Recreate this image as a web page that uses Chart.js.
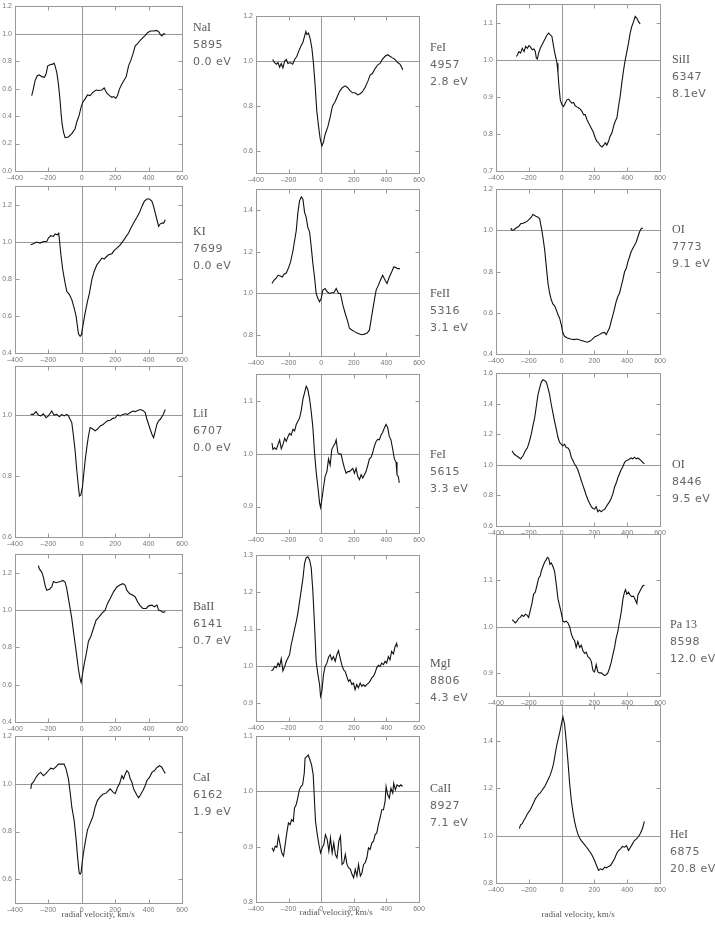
<!DOCTYPE html>
<html>
<head>
<meta charset="utf-8">
<script src="https://cdn.jsdelivr.net/npm/chart.js@4.4.0/dist/chart.umd.min.js"></script>
<style>
body { margin: 0; background: #fff; width: 715px; height: 927px; position: relative; overflow: hidden; }
canvas { position: absolute; }
.lab { position: absolute; color: #666; font: 11px "DejaVu Sans"; letter-spacing: 0.5px; line-height: 17px; white-space: pre; }
.lab .el { font: 12px "Liberation Serif"; color: #555; letter-spacing: 0; }
.xt { position: absolute; font: 9px "Liberation Serif"; color: #555; white-space: pre; }
</style>
</head>
<body>
<script>
// line profiles: [radial velocity km/s, normalised flux]
var naI = [[-300,0.549],[-290,0.598],[-280,0.658],[-266,0.694],[-254,0.70],[-240,0.687],[-224,0.682],[-214,0.706],[-204,0.766],[-190,0.773],[-174,0.778],[-166,0.786],[-160,0.766],[-150,0.718],[-140,0.634],[-130,0.513],[-124,0.417],[-118,0.345],[-110,0.284],[-100,0.243],[-80,0.248],[-60,0.272],[-40,0.308],[-30,0.357],[-16,0.405],[-4,0.465],[6,0.501],[20,0.525],[34,0.554],[50,0.549],[66,0.573],[86,0.590],[100,0.586],[120,0.590],[134,0.605],[150,0.566],[166,0.549],[180,0.537],[190,0.542],[204,0.530],[214,0.549],[226,0.598],[240,0.634],[254,0.663],[266,0.687],[280,0.766],[294,0.807],[306,0.851],[320,0.911],[334,0.928],[350,0.952],[366,0.971],[380,0.988],[394,1.007],[410,1.019],[430,1.019],[446,1.024],[460,1.014],[470,0.995],[480,0.983],[490,1.0],[500,0.995]];
var kI = [[-306,0.984],[-290,0.99],[-270,0.999],[-250,0.993],[-230,1.002],[-210,1.002],[-200,1.02],[-186,1.033],[-170,1.029],[-160,1.042],[-146,1.038],[-138,1.047],[-130,0.975],[-124,0.921],[-114,0.849],[-100,0.777],[-90,0.733],[-74,0.715],[-60,0.688],[-46,0.643],[-34,0.598],[-26,0.544],[-20,0.504],[-10,0.49],[-2,0.499],[6,0.544],[20,0.616],[34,0.679],[46,0.724],[60,0.796],[74,0.84],[90,0.876],[106,0.894],[120,0.912],[134,0.907],[146,0.918],[160,0.93],[180,0.936],[194,0.954],[210,0.966],[230,0.984],[250,1.008],[266,1.029],[280,1.047],[294,1.074],[310,1.101],[330,1.132],[346,1.159],[360,1.191],[374,1.218],[390,1.231],[406,1.231],[420,1.218],[430,1.191],[440,1.155],[450,1.119],[460,1.083],[470,1.097],[480,1.101],[490,1.101],[500,1.119]];
var liI = [[-306,1.002],[-290,1.002],[-274,1.011],[-260,1.0],[-246,0.997],[-230,1.004],[-214,0.991],[-200,0.997],[-180,1.013],[-166,1.0],[-150,1.002],[-134,0.994],[-120,1.002],[-106,0.997],[-90,1.002],[-80,0.997],[-70,0.986],[-60,0.975],[-50,0.932],[-40,0.883],[-30,0.818],[-20,0.764],[-14,0.734],[-6,0.737],[4,0.764],[10,0.797],[20,0.851],[30,0.894],[40,0.932],[50,0.959],[66,0.954],[80,0.948],[94,0.954],[110,0.964],[126,0.968],[140,0.975],[154,0.981],[170,0.983],[186,0.989],[200,0.991],[214,1.0],[230,0.997],[246,1.002],[260,1.004],[274,1.002],[290,1.008],[306,1.013],[320,1.011],[334,1.015],[350,1.018],[366,1.015],[380,1.008],[390,0.986],[406,0.959],[420,0.937],[430,0.926],[440,0.948],[450,0.970],[460,0.981],[470,0.986],[486,1.0],[500,1.018]];
var baII = [[-260,1.239],[-254,1.221],[-240,1.204],[-230,1.177],[-220,1.133],[-210,1.106],[-194,1.112],[-180,1.124],[-170,1.154],[-154,1.147],[-140,1.151],[-126,1.154],[-114,1.159],[-100,1.151],[-90,1.115],[-80,1.062],[-70,1.009],[-60,0.956],[-50,0.886],[-34,0.78],[-20,0.683],[-10,0.63],[-4,0.612],[4,0.656],[14,0.709],[26,0.762],[40,0.833],[54,0.859],[70,0.903],[86,0.947],[100,0.96],[120,0.983],[140,1.0],[154,1.036],[170,1.062],[190,1.098],[210,1.124],[230,1.136],[246,1.142],[260,1.133],[270,1.106],[286,1.089],[306,1.080],[320,1.071],[334,1.045],[350,1.023],[366,1.009],[386,1.009],[400,1.023],[420,1.027],[434,1.018],[450,1.027],[460,1.0],[474,0.995],[486,0.988],[500,0.992]];
var caI = [[-306,0.979],[-300,1.0],[-290,1.007],[-274,1.028],[-260,1.041],[-246,1.048],[-230,1.034],[-214,1.044],[-200,1.055],[-186,1.066],[-170,1.062],[-154,1.072],[-140,1.083],[-120,1.083],[-106,1.083],[-94,1.062],[-80,1.021],[-70,0.966],[-60,0.903],[-46,0.848],[-34,0.766],[-24,0.683],[-16,0.628],[-10,0.621],[-4,0.628],[2,0.669],[10,0.71],[20,0.752],[34,0.807],[50,0.834],[66,0.862],[80,0.903],[94,0.931],[110,0.945],[126,0.956],[146,0.961],[160,0.972],[170,0.979],[186,0.966],[200,0.959],[214,0.986],[226,1.0],[240,1.034],[250,1.021],[260,1.041],[270,1.055],[280,1.048],[290,1.021],[300,1.007],[310,0.979],[320,0.966],[330,0.952],[340,0.942],[350,0.952],[366,0.972],[380,0.993],[390,1.014],[406,1.028],[420,1.048],[434,1.055],[450,1.069],[466,1.076],[480,1.069],[490,1.055],[500,1.044]];
var feI4957 = [[-298,1.007],[-286,0.993],[-275,0.986],[-265,0.993],[-255,0.972],[-245,0.989],[-235,0.969],[-224,1.0],[-214,1.007],[-204,0.989],[-190,0.993],[-175,0.986],[-163,1.007],[-149,1.021],[-139,1.042],[-124,1.067],[-112,1.084],[-102,1.111],[-94,1.132],[-88,1.118],[-78,1.125],[-67,1.098],[-57,1.056],[-47,0.986],[-37,0.889],[-27,0.777],[-16,0.707],[-6,0.652],[4,0.621],[14,0.638],[24,0.672],[41,0.707],[55,0.749],[69,0.798],[86,0.819],[102,0.847],[116,0.868],[131,0.882],[147,0.889],[161,0.882],[177,0.868],[192,0.858],[208,0.858],[224,0.849],[239,0.854],[253,0.863],[269,0.882],[286,0.909],[300,0.937],[314,0.944],[330,0.965],[347,0.983],[361,0.989],[375,1.007],[392,1.021],[408,1.028],[422,1.021],[437,1.014],[453,1.007],[469,0.993],[483,0.986],[494,0.972],[500,0.961]];
var feII5316 = [[-302,1.048],[-290,1.063],[-275,1.075],[-265,1.087],[-251,1.084],[-239,1.079],[-228,1.092],[-214,1.098],[-200,1.124],[-188,1.151],[-173,1.206],[-163,1.254],[-153,1.302],[-143,1.389],[-133,1.444],[-122,1.463],[-112,1.452],[-102,1.389],[-92,1.365],[-82,1.317],[-71,1.294],[-61,1.222],[-51,1.143],[-41,1.079],[-31,1.0],[-20,0.976],[-10,0.960],[0,0.976],[10,1.016],[24,1.024],[37,1.008],[51,1.0],[65,1.003],[78,1.003],[92,1.024],[106,1.0],[118,1.0],[133,0.944],[147,0.905],[163,0.865],[173,0.833],[188,0.825],[204,0.817],[220,0.810],[235,0.806],[249,0.802],[265,0.805],[282,0.810],[296,0.825],[306,0.873],[316,0.921],[326,0.968],[337,1.016],[351,1.040],[363,1.063],[377,1.087],[392,1.063],[404,1.048],[418,1.079],[432,1.103],[445,1.127],[459,1.124],[469,1.119],[483,1.119]];
var feI5615 = [[-302,1.020],[-296,1.008],[-286,1.011],[-275,1.008],[-265,1.017],[-255,1.026],[-245,1.009],[-235,1.017],[-224,1.029],[-214,1.023],[-204,1.032],[-194,1.038],[-184,1.035],[-173,1.046],[-163,1.043],[-153,1.055],[-143,1.061],[-133,1.067],[-122,1.082],[-112,1.103],[-102,1.115],[-92,1.127],[-82,1.121],[-71,1.103],[-61,1.079],[-51,1.049],[-41,1.002],[-31,0.966],[-20,0.936],[-10,0.907],[-4,0.898],[4,0.913],[14,0.936],[24,0.957],[35,0.966],[45,0.990],[55,0.978],[65,1.008],[75,1.014],[86,1.020],[92,1.026],[102,1.002],[112,0.999],[122,0.999],[133,0.984],[143,0.972],[153,0.963],[163,0.966],[173,0.966],[184,0.969],[194,0.972],[204,0.963],[214,0.972],[224,0.957],[235,0.951],[245,0.960],[255,0.954],[265,0.960],[275,0.966],[286,0.978],[296,0.990],[306,0.993],[316,1.002],[326,1.014],[337,1.023],[347,1.027],[357,1.026],[367,1.035],[377,1.040],[388,1.049],[398,1.055],[408,1.049],[418,1.032],[428,1.026],[439,1.008],[449,0.990],[459,0.984],[465,0.960],[473,0.957],[479,0.945]];
var mgI8806 = [[-306,0.986],[-296,0.989],[-286,0.998],[-275,0.995],[-265,1.007],[-255,0.999],[-245,1.019],[-235,0.986],[-224,0.998],[-214,1.012],[-204,1.021],[-194,1.030],[-184,1.057],[-173,1.079],[-163,1.100],[-153,1.120],[-143,1.143],[-133,1.174],[-122,1.206],[-112,1.237],[-102,1.278],[-92,1.293],[-82,1.296],[-71,1.287],[-61,1.265],[-51,1.201],[-41,1.111],[-31,1.012],[-20,0.976],[-10,0.949],[-4,0.917],[4,0.930],[14,0.976],[24,0.998],[35,1.007],[45,1.023],[55,1.030],[65,1.016],[75,1.025],[86,1.012],[96,1.030],[106,1.041],[116,1.021],[126,1.003],[137,0.989],[147,0.985],[157,0.971],[167,0.958],[177,0.962],[188,0.949],[198,0.953],[208,0.935],[218,0.949],[228,0.940],[239,0.953],[249,0.944],[259,0.949],[269,0.944],[279,0.949],[290,0.953],[300,0.958],[310,0.967],[320,0.971],[330,0.980],[341,0.995],[351,1.001],[361,0.998],[371,1.007],[382,1.003],[392,1.012],[402,1.007],[412,1.025],[422,1.016],[432,1.039],[443,1.032],[453,1.052],[463,1.061],[467,1.050]];
var caII8927 = [[-302,0.898],[-292,0.892],[-282,0.901],[-272,0.899],[-262,0.919],[-252,0.904],[-242,0.889],[-231,0.883],[-221,0.904],[-211,0.925],[-201,0.943],[-191,0.940],[-181,0.949],[-171,0.946],[-164,0.970],[-154,0.976],[-144,0.988],[-134,1.003],[-124,1.009],[-114,1.012],[-104,1.033],[-99,1.060],[-89,1.063],[-79,1.066],[-69,1.057],[-59,1.048],[-49,1.030],[-43,0.994],[-35,0.946],[-24,0.922],[-14,0.904],[-4,0.889],[6,0.898],[16,0.904],[26,0.922],[37,0.913],[47,0.892],[57,0.916],[67,0.889],[77,0.907],[87,0.886],[97,0.880],[108,0.910],[118,0.919],[128,0.868],[138,0.871],[148,0.886],[158,0.868],[168,0.862],[179,0.859],[189,0.850],[199,0.844],[209,0.859],[219,0.847],[229,0.868],[240,0.847],[250,0.853],[260,0.868],[270,0.871],[280,0.880],[290,0.898],[300,0.895],[311,0.907],[321,0.910],[331,0.922],[341,0.925],[351,0.940],[361,0.952],[372,0.967],[382,0.967],[392,0.982],[398,1.009],[408,0.994],[418,0.988],[428,1.006],[439,0.997],[445,1.015],[455,1.003],[465,1.012],[479,1.009],[489,1.012],[499,1.009]];
var siII6347 = [[-276,1.009],[-270,1.013],[-260,1.022],[-250,1.018],[-240,1.031],[-229,1.022],[-219,1.036],[-209,1.031],[-199,1.038],[-189,1.034],[-179,1.027],[-168,1.029],[-160,1.022],[-154,1.004],[-148,1.002],[-140,1.018],[-130,1.031],[-120,1.040],[-110,1.049],[-99,1.058],[-89,1.067],[-79,1.072],[-69,1.067],[-59,1.063],[-49,1.036],[-39,1.013],[-28,0.991],[-22,0.964],[-16,0.928],[-8,0.892],[2,0.879],[12,0.874],[22,0.883],[32,0.892],[43,0.894],[53,0.888],[63,0.883],[73,0.885],[83,0.876],[93,0.873],[104,0.870],[114,0.867],[124,0.861],[134,0.852],[144,0.852],[154,0.839],[164,0.830],[175,0.821],[185,0.812],[195,0.803],[205,0.789],[215,0.780],[225,0.776],[235,0.769],[246,0.765],[256,0.769],[266,0.776],[276,0.770],[286,0.780],[296,0.794],[307,0.803],[317,0.821],[327,0.834],[337,0.843],[347,0.874],[357,0.901],[367,0.937],[378,0.973],[388,1.0],[398,1.022],[408,1.045],[418,1.072],[428,1.090],[439,1.103],[449,1.117],[459,1.112],[469,1.103],[479,1.097]];
var oI7773 = [[-310,1.011],[-302,1.0],[-290,1.003],[-276,1.013],[-262,1.019],[-250,1.032],[-235,1.035],[-221,1.040],[-209,1.045],[-195,1.056],[-185,1.064],[-175,1.077],[-164,1.072],[-154,1.067],[-144,1.064],[-134,1.056],[-124,1.016],[-114,0.968],[-103,0.904],[-93,0.823],[-83,0.743],[-73,0.695],[-63,0.663],[-53,0.643],[-43,0.634],[-32,0.614],[-22,0.590],[-12,0.574],[-2,0.542],[8,0.502],[18,0.486],[35,0.478],[55,0.473],[75,0.470],[95,0.473],[116,0.467],[136,0.462],[156,0.457],[171,0.462],[185,0.470],[201,0.483],[217,0.489],[231,0.494],[246,0.502],[262,0.505],[272,0.494],[282,0.510],[292,0.526],[302,0.558],[313,0.590],[323,0.622],[333,0.655],[343,0.679],[353,0.695],[363,0.727],[373,0.759],[384,0.799],[394,0.815],[404,0.847],[414,0.871],[424,0.896],[434,0.912],[445,0.928],[455,0.944],[465,0.968],[475,0.992],[485,1.008],[495,1.011]];
var oI8446 = [[-302,1.093],[-290,1.071],[-276,1.060],[-262,1.050],[-250,1.039],[-235,1.060],[-221,1.093],[-209,1.110],[-195,1.158],[-185,1.201],[-175,1.255],[-164,1.309],[-154,1.384],[-144,1.460],[-134,1.503],[-124,1.542],[-114,1.557],[-103,1.551],[-93,1.542],[-83,1.503],[-73,1.460],[-63,1.395],[-53,1.341],[-43,1.287],[-32,1.233],[-22,1.179],[-12,1.147],[-2,1.136],[8,1.125],[18,1.136],[28,1.114],[39,1.110],[49,1.093],[59,1.050],[69,1.028],[79,1.006],[89,0.989],[99,0.968],[110,0.931],[120,0.898],[130,0.866],[140,0.834],[150,0.801],[160,0.773],[171,0.747],[181,0.726],[191,0.715],[201,0.711],[211,0.726],[221,0.693],[231,0.704],[242,0.693],[252,0.704],[262,0.708],[272,0.726],[282,0.743],[292,0.758],[302,0.780],[313,0.812],[323,0.855],[333,0.881],[343,0.916],[353,0.942],[363,0.968],[374,0.989],[384,1.017],[394,1.028],[404,1.032],[414,1.039],[424,1.045],[434,1.039],[445,1.050],[455,1.039],[465,1.045],[475,1.037],[485,1.028],[495,1.017],[505,1.006]];
var pa13 = [[-302,1.015],[-292,1.012],[-282,1.008],[-272,1.012],[-262,1.018],[-252,1.02],[-242,1.025],[-231,1.022],[-221,1.027],[-211,1.025],[-201,1.02],[-191,1.035],[-181,1.05],[-171,1.07],[-160,1.075],[-150,1.09],[-140,1.105],[-130,1.11],[-124,1.12],[-114,1.13],[-103,1.14],[-93,1.145],[-87,1.15],[-79,1.148],[-71,1.135],[-63,1.138],[-53,1.13],[-43,1.12],[-32,1.09],[-22,1.06],[-12,1.045],[-2,1.03],[8,1.012],[18,1.01],[28,1.012],[39,1.008],[49,1.0],[59,0.985],[69,0.975],[79,0.97],[89,0.955],[99,0.968],[110,0.955],[120,0.96],[130,0.948],[140,0.942],[150,0.945],[160,0.935],[171,0.932],[181,0.925],[191,0.905],[201,0.902],[211,0.918],[221,0.902],[231,0.9],[242,0.9],[252,0.897],[262,0.894],[272,0.896],[282,0.9],[292,0.91],[302,0.922],[313,0.94],[323,0.955],[333,0.976],[343,0.99],[349,1.003],[357,1.018],[365,1.035],[374,1.06],[384,1.075],[390,1.08],[398,1.07],[408,1.075],[418,1.068],[428,1.065],[439,1.066],[449,1.058],[459,1.05],[465,1.068],[475,1.075],[485,1.082],[495,1.088],[505,1.09]];
var heI5875 = [[-258,1.03],[-250,1.045],[-240,1.05],[-230,1.065],[-220,1.075],[-210,1.09],[-200,1.1],[-190,1.11],[-180,1.125],[-170,1.14],[-160,1.155],[-150,1.165],[-140,1.175],[-130,1.18],[-120,1.19],[-110,1.2],[-100,1.21],[-90,1.225],[-80,1.24],[-70,1.255],[-60,1.275],[-50,1.3],[-40,1.34],[-30,1.38],[-20,1.41],[-10,1.44],[0,1.475],[8,1.5],[18,1.47],[28,1.4],[39,1.31],[49,1.22],[59,1.15],[69,1.1],[79,1.06],[89,1.03],[99,1.007],[110,0.99],[120,0.979],[130,0.97],[140,0.962],[150,0.953],[160,0.944],[171,0.933],[181,0.923],[191,0.91],[201,0.895],[213,0.874],[225,0.853],[237,0.86],[250,0.856],[262,0.867],[274,0.864],[286,0.87],[298,0.874],[311,0.888],[323,0.902],[335,0.923],[347,0.937],[359,0.944],[371,0.954],[384,0.951],[396,0.958],[408,0.937],[420,0.951],[432,0.965],[444,0.979],[457,0.986],[469,0.996],[481,1.01],[493,1.03],[505,1.06]];

var profiles = [naI, kI, liI, baII, caI, feI4957, feII5316, feI5615, mgI8806, caII8927, siII6347, oI7773, oI8446, pa13, heI5875];
var lineNames = ['NaI', 'KI', 'LiI', 'BaII', 'CaI', 'FeI', 'FeII', 'FeI', 'MgI', 'CaII', 'SiII', 'OI', 'OI', 'Pa 13', 'HeI'];
var wavelengths = ['5895', '7699', '6707', '6141', '6162', '4957', '5316', '5615', '8806', '8927', '6347', '7773', '8446', '8598', '6875'];
var energies = ['0.0 eV', '0.0 eV', '0.0 eV', '0.7 eV', '1.9 eV', '2.8 eV', '3.1 eV', '3.3 eV', '4.3 eV', '7.1 eV', '8.1eV', '9.1 eV', '9.5 eV', '12.0 eV', '20.8 eV'];
var yRanges = [[0, 1.2], [0.4, 1.3], [0.6, 1.16], [0.4, 1.3], [0.5, 1.2], [0.5, 1.2], [0.7, 1.5], [0.85, 1.15], [0.85, 1.3], [0.8, 1.1], [0.7, 1.15], [0.4, 1.2], [0.6, 1.6], [0.85, 1.2], [0.8, 1.55]];
var yTicks = [
  [0, 0.2, 0.4, 0.6, 0.8, 1.0, 1.2], [0.4, 0.6, 0.8, 1.0, 1.2], [0.6, 0.8, 1.0], [0.4, 0.6, 0.8, 1.0, 1.2], [0.6, 0.8, 1.0, 1.2],
  [0.6, 0.8, 1.0, 1.2], [0.8, 1.0, 1.2, 1.4], [0.9, 1.0, 1.1], [0.9, 1.0, 1.1, 1.2, 1.3], [0.8, 0.9, 1.0, 1.1],
  [0.7, 0.8, 0.9, 1.0, 1.1], [0.4, 0.6, 0.8, 1.0, 1.2], [0.6, 0.8, 1.0, 1.2, 1.4, 1.6], [0.9, 1.0, 1.1], [0.8, 1.0, 1.2, 1.4]
];
var xTicks = [-400, -200, 0, 200, 400, 600];
var xTitle = 'radial velocity, km/s';

// page layout: plot boxes [left, top, right, bottom] and label anchors
var boxes = [
  [15, 5, 182, 171], [15, 185, 182, 353], [15, 365, 182, 537], [15, 553, 182, 722], [15, 735, 182, 903],
  [256, 15, 419, 173], [256, 188, 419, 356], [256, 373, 419, 533], [256, 554, 419, 721], [256, 735, 419, 902],
  [496, 3, 660, 171], [496, 188, 660, 354], [496, 372, 660, 526], [496, 533, 660, 696], [496, 704, 660, 883]
];
var labelPos = [[193, 28], [193, 232], [193, 414], [193, 607], [193, 778], [430, 48], [430, 294], [430, 455], [430, 664], [430, 789], [672, 60], [672, 230], [672, 465], [670, 625], [670, 835]];
var titlePos = [[98, 915], [336, 913], [578, 915]];
var ML = 26, MT = 6, MR = 12, MB = 14;
var axisGrey = '#999';

var frame = {
  id: 'frame',
  beforeDatasetsDraw: function (chart) {
    var ctx = chart.ctx, a = chart.chartArea, x = chart.scales.x, y = chart.scales.y;
    var px = Math.round(x.getPixelForValue(0)) + 0.5;
    var py = Math.round(y.getPixelForValue(1)) + 0.5;
    ctx.save();
    ctx.strokeStyle = axisGrey;
    ctx.lineWidth = 1;
    ctx.beginPath();
    ctx.moveTo(px, a.top); ctx.lineTo(px, a.bottom);
    ctx.moveTo(a.left, py); ctx.lineTo(a.right, py);
    ctx.stroke();
    ctx.restore();
  },
  afterDraw: function (chart) {
    var ctx = chart.ctx, a = chart.chartArea, x = chart.scales.x, y = chart.scales.y;
    var l = Math.round(a.left) + 0.5, r = Math.round(a.right) + 0.5;
    var t = Math.round(a.top) + 0.5, b = Math.round(a.bottom) + 0.5;
    ctx.save();
    ctx.strokeStyle = axisGrey;
    ctx.lineWidth = 1;
    ctx.strokeRect(l, t, r - l, b - t);
    ctx.beginPath();
    xTicks.forEach(function (v) {
      var p = Math.round(x.getPixelForValue(v)) + 0.5;
      ctx.moveTo(p, t); ctx.lineTo(p, t + 4);
      ctx.moveTo(p, b); ctx.lineTo(p, b - 4);
    });
    y.ticks.forEach(function (tk) {
      var p = Math.round(y.getPixelForValue(tk.value)) + 0.5;
      ctx.moveTo(l, p); ctx.lineTo(l + 4, p);
      ctx.moveTo(r, p); ctx.lineTo(r - 4, p);
    });
    ctx.stroke();
    ctx.restore();
  }
};

boxes.forEach(function (bx, i) {
  var w = bx[2] - bx[0] + ML + MR, h = bx[3] - bx[1] + MT + MB;
  var cv = document.createElement('canvas');
  cv.width = w; cv.height = h;
  cv.style.left = (bx[0] - ML) + 'px';
  cv.style.top = (bx[1] - MT) + 'px';
  cv.style.width = w + 'px';
  cv.style.height = h + 'px';
  document.body.appendChild(cv);

  new Chart(cv.getContext('2d'), {
    type: 'line',
    data: {
      datasets: [{
        data: profiles[i].map(function (p) { return { x: p[0], y: p[1] }; }),
        borderColor: '#111',
        borderWidth: 1.1,
        pointRadius: 0,
        tension: 0
      }]
    },
    options: {
      responsive: false,
      animation: false,
      layout: { padding: { top: MT, right: MR, left: 0, bottom: 0 }, autoPadding: false },
      plugins: { legend: { display: false }, tooltip: { enabled: false } },
      scales: {
        x: {
          type: 'linear', min: -400, max: 600,
          afterBuildTicks: function (s) { s.ticks = xTicks.map(function (v) { return { value: v }; }); },
          afterFit: function (s) { s.height = MB; },
          grid: { display: false, drawTicks: false },
          border: { display: false },
          ticks: {
            font: { size: 7, family: 'Liberation Sans' }, color: '#777', padding: 3,
            maxRotation: 0, autoSkip: false,
            callback: function (v) { return v < 0 ? '\u2013' + (-v) : String(v); }
          }
        },
        y: {
          type: 'linear', min: yRanges[i][0], max: yRanges[i][1],
          afterBuildTicks: function (s) { s.ticks = yTicks[i].map(function (v) { return { value: v }; }); },
          afterFit: function (s) { s.width = ML; },
          grid: { display: false, drawTicks: false },
          border: { display: false },
          ticks: {
            font: { size: 7, family: 'Liberation Sans' }, color: '#777', padding: 3,
            autoSkip: false,
            callback: function (v) { return Number(v).toFixed(1); }
          }
        }
      }
    },
    plugins: [frame]
  });

  var lab = document.createElement('div');
  lab.className = 'lab';
  lab.style.left = labelPos[i][0] + 'px';
  lab.style.top = (labelPos[i][1] - 9) + 'px';
  lab.innerHTML = '<span class="el">' + lineNames[i] + '</span>\n' + wavelengths[i] + '\n' + energies[i];
  document.body.appendChild(lab);
});

titlePos.forEach(function (p) {
  var d = document.createElement('div');
  d.className = 'xt';
  d.textContent = xTitle;
  document.body.appendChild(d);
  d.style.left = (p[0] - d.offsetWidth / 2) + 'px';
  d.style.top = (p[1] - 6) + 'px';
});
</script>
</body>
</html>
